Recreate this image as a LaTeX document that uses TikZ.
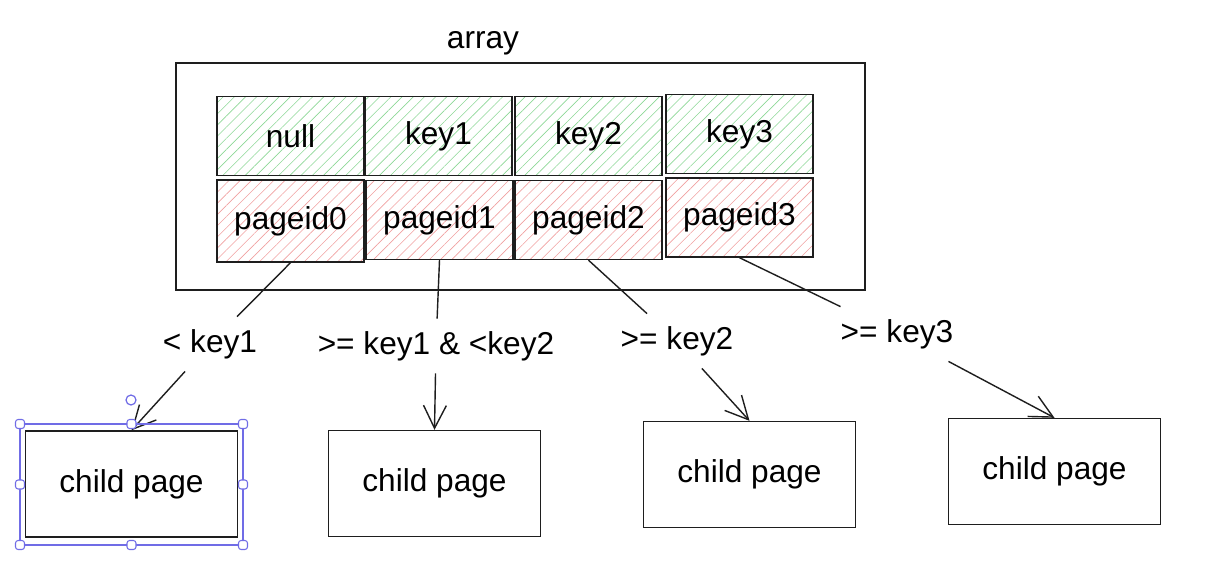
\documentclass[tikz,border=0pt]{standalone}
\usepackage{fontspec}
\setmainfont{Liberation Sans}
\usetikzlibrary{arrows.meta, positioning, patterns.meta}

\definecolor{inkline}{RGB}{30,30,30}
\definecolor{keyhatch}{RGB}{140,215,150}
\definecolor{pidhatch}{RGB}{240,160,160}
\definecolor{selcol}{RGB}{112,108,230}

\tikzset{
  cell/.style={draw=inkline, line width=0.8pt, minimum width=2.94cm, minimum height=1.58cm,
               inner sep=0pt, font=\fontsize{18}{22}\selectfont},
  keycell/.style={cell, pattern={Lines[angle=45, distance=4.5pt, line width=0.35pt]}, pattern color=keyhatch},
  pidcell/.style={cell, pattern={Lines[angle=45, distance=4.5pt, line width=0.35pt]}, pattern color=pidhatch},
  childbox/.style={draw=inkline, line width=0.8pt, minimum width=4.24cm, minimum height=2.12cm,
                   font=\fontsize{18}{22}\selectfont},
  cond/.style={inner sep=7pt, font=\fontsize{18}{22}\selectfont},
  link/.style={draw=inkline, line width=0.8pt},
  linkto/.style={link, -{Straight Barb[length=13pt, width=13pt, line width=0.8pt]}},
  handle/.style={draw=selcol, fill=white, line width=0.6pt, rounded corners=1.5pt}
}

\begin{document}
\begin{tikzpicture}[x=0.02cm, y=-0.02cm]
  \useasboundingbox (0,0) rectangle (1225,566);

  % array frame
  \node[draw=inkline, line width=0.9pt, minimum width=13.78cm, minimum height=4.54cm] (frame) at (520.5,176.5) {};
  \node[font=\fontsize{18}{22}\selectfont] (arr) at (483,43) {array};

  % key row
  \node[keycell] (k0) at (290.5,136) {null};
  \node[keycell] (k1) at (438.5,136) {key1};
  \node[keycell] (k2) at (588.5,136) {key2};
  \node[keycell] (k3) at (739.5,134) {key3};

  % page id row
  \node[pidcell, minimum height=1.64cm] (p0) at (290.5,221) {pageid0};
  \node[pidcell] (p1) at (439.5,220) {pageid1};
  \node[pidcell] (p2) at (588.5,220) {pageid2};
  \node[pidcell] (p3) at (739.5,217.5) {pageid3};

  % child pages
  \node[childbox] (c0) at (131.5,484) {child page};
  \node[childbox] (c1) at (434.5,483.5) {child page};
  \node[childbox] (c2) at (749.5,474.5) {child page};
  \node[childbox] (c3) at (1054.5,471.5) {child page};

  % conditions
  \node[cond] (t0) at (210,344) {< key1};
  \node[cond] (t1) at (436,346) {>= key1 \& <key2};
  \node[cond] (t2) at (677,341) {>= key2};
  \node[cond] (t3) at (897,334) {>= key3};

  \draw[link] (p0.south) -- (t0);
  \draw[linkto] (t0) -- (c0.north);
  \draw[link] (p1.south) -- (t1);
  \draw[linkto] (t1) -- (c1.north);
  \draw[link] (p2.south) -- (t2);
  \draw[linkto] (t2) -- (c2.north);
  \draw[link] (p3.south) -- (t3);
  \draw[linkto] (t3) -- (c3.north);

  % selection frame
  \draw[selcol, line width=0.7pt] (20,424) rectangle (243,545);
  \draw[selcol, fill=white, line width=0.7pt] (131,400) circle (5);
  \foreach \hx/\hy in {20/424, 131.5/424, 243/424, 20/484.5, 243/484.5, 20/545, 131.5/545, 243/545}
    \draw[handle] (\hx-4.5,\hy-4.5) rectangle (\hx+4.5,\hy+4.5);
\end{tikzpicture}
\end{document}
